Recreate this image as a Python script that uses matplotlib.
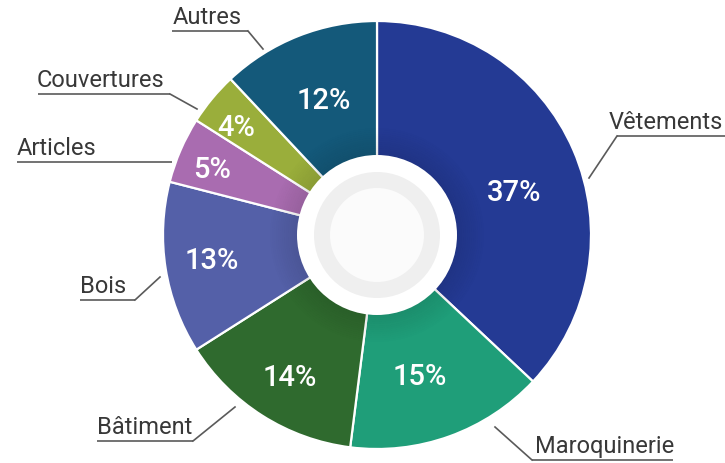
import numpy as np
import matplotlib.pyplot as plt
from matplotlib.patches import Circle, Wedge

# data
labels = ['Vêtements', 'Maroquinerie', 'Bâtiment', 'Bois', 'Articles', 'Couvertures', 'Autres']
shares = [37, 15, 14, 13, 5, 4, 12]
colors = ['#243a94', '#1f9e79', '#2f6a2e', '#5460a8', '#a96cb0', '#9aae3b', '#14597a']

# layout, in pixels from the top-left corner
W, H = 725, 464
cx, cy = 377, 236
R_out, R_hole = 214, 79
pct_r = [0.67, 0.69, 0.78, 0.78, 0.83, 0.83, 0.68]
pct_da = [6, 3, -1, 0.5, -1.5, -2, 0]        # small angle nudges (deg, clockwise)
text_x = [609, 535, 97, 80, 17, 37, 173]
underline = [(617, 725, 137), (532, 673, 461), (97, 193, 442), (80, 135, 301),
             (17, 172, 163), (38, 170, 95), (172, 248, 32)]
leader_end = [(589, 179), (495, 428), (235, 408), (160, 278), None, (197, 110), (263, 50)]

fig = plt.figure(figsize=(W / 100, H / 100), dpi=100)
ax = fig.add_axes([0, 0, 1, 1])


def py(y):
    return H - y


wedges, _, autotexts = ax.pie(
    shares, colors=colors, startangle=90, counterclock=False,
    center=(cx, py(cy)), radius=R_out, autopct='%d%%', pctdistance=0.7,
    wedgeprops=dict(edgecolor='white', linewidth=1.6),
    textprops=dict(color='white', fontsize=21, family='Roboto', weight='medium'),
    frame=True)
ax.set_xlim(0, W)
ax.set_ylim(0, H)
ax.set_aspect('equal')
ax.axis('off')

# percent labels at their own radii
start = 90.0
total = float(sum(shares))
for t, v, f, da in zip(autotexts, shares, pct_r, pct_da):
    mid = np.deg2rad(start - 360 * v / total / 2 - da)
    t.set_position((cx + f * R_out * np.cos(mid), py(cy) + f * R_out * np.sin(mid)))
    start -= 360 * v / total

# soft shading toward the hole
for i in range(14):
    r = R_hole + 2 + i * 2
    ax.add_patch(Wedge((cx, py(cy)), r, 0, 360, width=2, facecolor='black',
                       alpha=0.10 * (1 - i / 14), linewidth=0, zorder=2))

# hole
ax.add_patch(Circle((cx, py(cy)), R_hole + 1, facecolor='white', edgecolor='none', zorder=3))
ax.add_patch(Circle((cx, py(cy)), 63, facecolor='#efefef', edgecolor='none', zorder=4))
ax.add_patch(Circle((cx, py(cy)), 47, facecolor='#fbfbfb', edgecolor='none', zorder=5))

# outside labels with leader lines
for lab, tx, (x0, x1, uy), end in zip(labels, text_x, underline, leader_end):
    ax.text(tx, py(uy) + 8, lab, ha='left', va='baseline', fontsize=17,
            color='#383838', family='Roboto')
    ax.plot([x0, x1], [py(uy), py(uy)], color='#5a5a5a', lw=1.2, solid_capstyle='butt')
    if end is not None:
        ex, ey = end
        jx = x1 if abs(ex - x1) < abs(ex - x0) else x0
        ax.plot([jx, ex], [py(uy), py(ey)], color='#5a5a5a', lw=1.2)

fig.savefig('out.png', dpi=100)
